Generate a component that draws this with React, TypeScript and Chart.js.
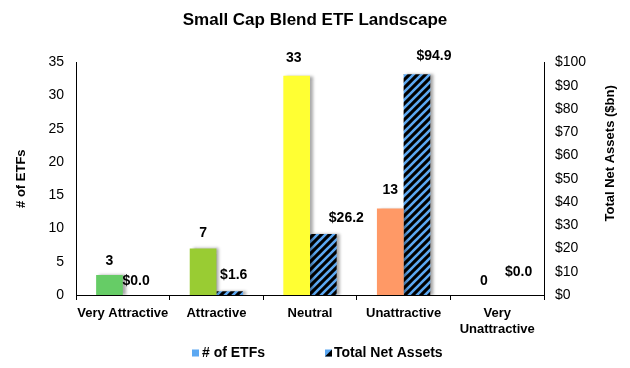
import React, { useEffect, useRef } from "react";
import { Chart, registerables } from "chart.js";

Chart.register(...registerables);

const categories: (string | string[])[] = [
  "Very Attractive",
  "Attractive",
  "Neutral",
  "Unattractive",
  ["Very", "Unattractive"],
];
const etfCounts = [3, 7, 33, 13, 0];
const netAssets = [0.0, 1.6, 26.2, 94.9, 0.0];
const countColors = ["#66CC66", "#99CC33", "#FFFF33", "#FF9966", "#FF3333"];
const leftTicks = [0, 5, 10, 15, 20, 25, 30, 35];
const rightTicks = [0, 10, 20, 30, 40, 50, 60, 70, 80, 90, 100];
const seriesNames = ["# of ETFs", "Total Net Assets"];
const rightAxisTitle = "Total Net Assets ($bn)";

const FONT = 'Arial, "Liberation Sans", sans-serif';
const BLUE = "#5CA8F2";

// label nudges (styling): [dx, distance of label centre above bar top]
const LABEL_NUDGE: number[][][] = [
  [[0, 14], [0, 15], [-3, 18], [0, 18], [0, 14]],
  [[0, 14], [4, 16], [23, 16], [17, 18], [8, 23]],
];

function makeHatch(): CanvasPattern | string {
  const c = document.createElement("canvas");
  c.width = 8;
  c.height = 8;
  const g = c.getContext("2d");
  if (!g) return BLUE;
  g.fillStyle = "#000";
  g.fillRect(0, 0, 8, 8);
  g.strokeStyle = BLUE;
  g.lineWidth = 2.6;
  g.beginPath();
  g.moveTo(-2, 10);
  g.lineTo(10, -2);
  g.moveTo(-6, 6);
  g.lineTo(6, -6);
  g.moveTo(2, 14);
  g.lineTo(14, 2);
  g.stroke();
  const p = g.createPattern(c, "repeat");
  return p || BLUE;
}

const shadowPlugin = {
  id: "barShadow",
  beforeDatasetsDraw(chart: any) {
    const ctx = chart.ctx;
    ctx.save();
    ctx.shadowColor = "rgba(0,0,0,0.35)";
    ctx.shadowBlur = 3;
    ctx.shadowOffsetX = 3;
    ctx.shadowOffsetY = 0;
  },
  afterDatasetsDraw(chart: any) {
    chart.ctx.restore();
  },
};

const labelPlugin = {
  id: "valueLabels",
  afterDraw(chart: any) {
    const ctx = chart.ctx;
    ctx.save();
    ctx.font = `bold 14px ${FONT}`;
    ctx.fillStyle = "#000";
    ctx.textAlign = "center";
    ctx.textBaseline = "middle";
    chart.data.datasets.forEach((ds: any, di: number) => {
      const meta = chart.getDatasetMeta(di);
      meta.data.forEach((bar: any, i: number) => {
        const v = ds.data[i];
        const txt = di === 0 ? String(v) : `$${v.toFixed(1)}`;
        const [dx, dy] = LABEL_NUDGE[di][i];
        ctx.fillText(txt, bar.x + dx, bar.y - dy);
      });
    });
    ctx.restore();
  },
};

const extrasPlugin = {
  id: "extras",
  afterDraw(chart: any) {
    const ctx = chart.ctx;
    const area = chart.chartArea;
    ctx.save();
    // right axis title (reads bottom to top)
    ctx.font = `bold 13px ${FONT}`;
    ctx.fillStyle = "#000";
    ctx.textAlign = "center";
    ctx.textBaseline = "middle";
    ctx.translate(610, area.top + 91);
    ctx.rotate(-Math.PI / 2);
    ctx.fillText(rightAxisTitle, 0, 0);
    ctx.restore();

    // legend
    ctx.save();
    ctx.font = `bold 14px ${FONT}`;
    ctx.textBaseline = "middle";
    ctx.textAlign = "left";
    const y = 353;
    ctx.fillStyle = BLUE;
    ctx.fillRect(192, y - 3.5, 7, 7);
    ctx.fillStyle = "#000";
    ctx.fillText(seriesNames[0], 202, y);
    ctx.fillStyle = BLUE;
    ctx.fillRect(325, y - 3.5, 7, 7);
    ctx.fillStyle = "#000";
    ctx.beginPath();
    ctx.moveTo(332, y - 3.5);
    ctx.lineTo(332, y + 3.5);
    ctx.lineTo(325, y + 3.5);
    ctx.closePath();
    ctx.fill();
    ctx.fillText(seriesNames[1], 334, y);
    ctx.restore();
  },
};

export default function App() {
  const ref = useRef<HTMLCanvasElement | null>(null);

  useEffect(() => {
    if (!ref.current) return;
    const hatch = makeHatch();
    const chart = new Chart(ref.current, {
      type: "bar",
      data: {
        labels: categories as any,
        datasets: [
          {
            label: seriesNames[0],
            data: etfCounts,
            backgroundColor: countColors,
            yAxisID: "y",
            barPercentage: 1,
            categoryPercentage: 0.57,
          },
          {
            label: seriesNames[1],
            data: netAssets,
            backgroundColor: hatch as any,
            yAxisID: "y1",
            barPercentage: 1,
            categoryPercentage: 0.57,
          },
        ],
      },
      options: {
        animation: false,
        responsive: false,
        maintainAspectRatio: false,
        layout: { padding: { left: 0, right: 0, top: 0, bottom: 30 } },
        plugins: {
          tooltip: { enabled: false },
          legend: { display: false },
          title: {
            display: true,
            text: "Small Cap Blend ETF Landscape",
            color: "#000",
            font: { family: FONT, size: 17, weight: "bold" },
            padding: { top: 10, bottom: 32 },
          },
        },
        scales: {
          x: {
            grid: {
              display: true,
              drawOnChartArea: false,
              offset: true,
              tickLength: 5,
              color: "#000",
            },
            border: { display: true, color: "#000", width: 1 },
            ticks: {
              color: "#000",
              padding: 6,
              maxRotation: 0,
              autoSkip: false,
              font: { family: FONT, size: 13, weight: "bold" },
            },
            afterFit: (s: any) => {
              s.height = 43;
            },
          },
          y: {
            position: "left",
            min: 0,
            max: 35,
            afterBuildTicks: (s: any) => {
              s.ticks = leftTicks.map((v) => ({ value: v }));
            },
            grid: { display: false, drawTicks: false },
            border: { display: true, color: "#000", width: 1 },
            ticks: {
              color: "#000",
              padding: 12,
              font: { family: FONT, size: 14 },
            },
            title: {
              display: true,
              text: "# of ETFs",
              color: "#000",
              font: { family: FONT, size: 13, weight: "bold" },
              padding: { top: 14, bottom: 0 },
            },
            afterFit: (s: any) => {
              s.width = 76;
            },
          },
          y1: {
            position: "right",
            min: 0,
            max: 100,
            afterBuildTicks: (s: any) => {
              s.ticks = rightTicks.map((v) => ({ value: v }));
            },
            grid: { display: false, drawTicks: false },
            border: { display: true, color: "#000", width: 1 },
            ticks: {
              color: "#000",
              padding: 11,
              font: { family: FONT, size: 14 },
              callback: (v: any) => `$${v}`,
            },
            afterFit: (s: any) => {
              s.width = 86;
            },
          },
        },
      },
      plugins: [shadowPlugin, labelPlugin, extrasPlugin],
    });
    return () => chart.destroy();
  }, []);

  return (
    <div style={{ position: "fixed", left: 0, top: 0, width: 630, height: 368, background: "#fff" }}>
      <canvas ref={ref} width={630} height={368} style={{ width: 630, height: 368 }} />
    </div>
  );
}
